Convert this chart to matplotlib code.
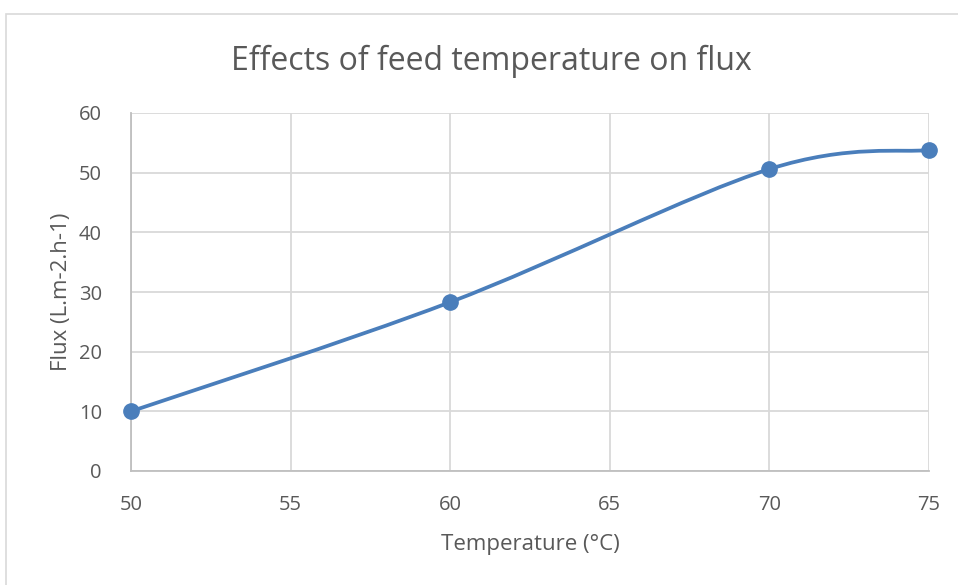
import matplotlib.pyplot as plt
from matplotlib.path import Path
from matplotlib.patches import PathPatch, Rectangle

temperature = [50, 60, 70, 75]
flux = [10.0, 28.3, 50.6, 53.8]
x_ticks = [50, 55, 60, 65, 70, 75]
y_ticks = [0, 10, 20, 30, 40, 50, 60]

LINE_COLOR = '#4a7ebb'
TEXT_COLOR = '#595959'
GRID_COLOR = '#d9d9d9'

plt.rcParams['font.family'] = ['Open Sans', 'DejaVu Sans']


def smooth_path(xs, ys):
    # Excel-like smoothed line: cubic Bezier through every point (Catmull-Rom)
    pts = list(zip(xs, ys))
    n = len(pts)
    verts = [pts[0]]
    codes = [Path.MOVETO]
    for i in range(n - 1):
        p0 = pts[i - 1] if i > 0 else pts[i]
        p1 = pts[i]
        p2 = pts[i + 1]
        p3 = pts[i + 2] if i + 2 < n else pts[i + 1]
        c1 = (p1[0] + (p2[0] - p0[0]) / 6, p1[1] + (p2[1] - p0[1]) / 6)
        c2 = (p2[0] - (p3[0] - p1[0]) / 6, p2[1] - (p3[1] - p1[1]) / 6)
        verts += [c1, c2, p2]
        codes += [Path.CURVE4] * 3
    return Path(verts, codes)


fig = plt.figure(figsize=(9.58, 5.85), dpi=100)
fig.patches.append(Rectangle((6 / 958, -0.05), 1.0, 1 - 14 / 585 + 0.05,
                             transform=fig.transFigure, fill=False,
                             edgecolor=GRID_COLOR, linewidth=1.2))

ax = fig.add_axes([131 / 958, 1 - 471 / 585, (929 - 131) / 958, (471 - 113) / 585])
ax.set_xlim(50, 75)
ax.set_ylim(0, 60)
ax.set_xticks(x_ticks)
ax.set_yticks(y_ticks)
ax.grid(True, color=GRID_COLOR, linewidth=1.3)
ax.set_axisbelow(True)
for side in ['top', 'right']:
    ax.spines[side].set_visible(False)
for side in ['left', 'bottom']:
    ax.spines[side].set_color('#bfbfbf')
    ax.spines[side].set_linewidth(1.3)
ax.tick_params(length=0, labelsize=14.5, colors=TEXT_COLOR)
ax.tick_params(axis='x', pad=17)
ax.tick_params(axis='y', pad=21)

ax.add_patch(PathPatch(smooth_path(temperature, flux), facecolor='none',
                       edgecolor=LINE_COLOR, linewidth=2.7, capstyle='round',
                       zorder=3, clip_on=False))
ax.plot(temperature, flux, linestyle='none', marker='o', markersize=11,
        color=LINE_COLOR, zorder=4, clip_on=False)

fig.text(491 / 958, 1 - 61 / 585, 'Effects of feed temperature on flux',
         fontsize=23, color=TEXT_COLOR, ha='center', va='center')
ax.set_xlabel('Temperature (°C)', fontsize=16, color=TEXT_COLOR, labelpad=14)
ax.set_ylabel('Flux (L.m-2.h-1)', fontsize=16, color=TEXT_COLOR)
ax.yaxis.set_label_coords(-0.074, 0.5)

plt.savefig('out.png', dpi=100)
